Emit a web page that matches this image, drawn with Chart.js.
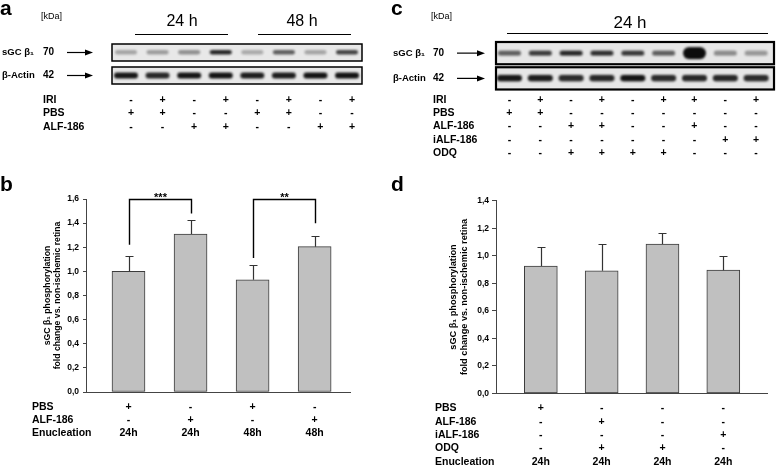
<!DOCTYPE html>
<html>
<head>
<meta charset="utf-8">
<script src="https://cdn.jsdelivr.net/npm/chart.js@4.4.0/dist/chart.umd.min.js"></script>
<style>
  body { margin: 0; background: #fff; }
  #fig { position: relative; width: 779px; height: 465px; overflow: hidden;
         font-family: Arial, "Liberation Sans", sans-serif; color: #000; }
  #fig canvas { position: absolute; }
  .t { position: absolute; white-space: nowrap; line-height: 1; }
  .letter { font-weight: bold; font-size: 21px; }
  .kda { font-size: 9px; }
  .time { font-size: 16px; transform: translateX(-50%); }
  .rule { position: absolute; height: 1px; background: #000; }
</style>
</head>
<body>
<div id="fig">
  <canvas id="blot-a" width="390" height="180" style="left:0;top:0"></canvas>
  <canvas id="blot-c" width="389" height="180" style="left:390px;top:0"></canvas>
  <canvas id="bar-b" width="390" height="285" style="left:0;top:180px"></canvas>
  <canvas id="bar-d" width="389" height="285" style="left:390px;top:180px"></canvas>

  <div class="t letter" style="left:0;top:-3px">a</div>
  <div class="t letter" style="left:0;top:173px">b</div>
  <div class="t letter" style="left:391px;top:-3px">c</div>
  <div class="t letter" style="left:391px;top:173px">d</div>

  <div class="t kda" style="left:41px;top:12px">[kDa]</div>
  <div class="t kda" style="left:431px;top:12px">[kDa]</div>

  <div class="t time" style="left:182px;top:13px">24 h</div>
  <div class="t time" style="left:302px;top:13px">48 h</div>
  <div class="rule" style="left:135px;top:34px;width:93px"></div>
  <div class="rule" style="left:258px;top:34px;width:93px"></div>
  <div class="t time" style="left:630px;top:14px;font-size:17px">24 h</div>
  <div class="rule" style="left:507px;top:33px;width:261px"></div>
</div>

<script>
  const FONT = 'Arial, "Liberation Sans", sans-serif';
  Chart.defaults.font.family = FONT;
  Chart.defaults.color = '#000';

  // ---- panel a: western blot, 8 lanes ----
  const blotARows = ['sGC β₁', 'β-Actin'];
  const blotAMass = ['70', '42'];
  const blotASgc = [0.30, 0.34, 0.40, 0.88, 0.28, 0.62, 0.30, 0.74];
  const blotAActin = [0.95, 0.88, 0.97, 0.97, 0.92, 0.92, 0.97, 0.97];
  const blotATableNames = ['IRI', 'PBS', 'ALF-186'];
  const blotAIri = ['-', '+', '-', '+', '-', '+', '-', '+'];
  const blotAPbs = ['+', '+', '-', '-', '+', '+', '-', '-'];
  const blotAAlf = ['-', '-', '+', '+', '-', '-', '+', '+'];

  // ---- panel c: western blot, 9 lanes ----
  const blotCRows = ['sGC β₁', 'β-Actin'];
  const blotCMass = ['70', '42'];
  const blotCSgc = [0.62, 0.78, 0.88, 0.84, 0.80, 0.62, 2.4, 0.42, 0.36];
  const blotCActin = [0.95, 0.92, 0.86, 0.88, 0.97, 0.86, 0.88, 0.88, 0.86];
  const blotCTableNames = ['IRI', 'PBS', 'ALF-186', 'iALF-186', 'ODQ'];
  const blotCIri = ['-', '+', '-', '+', '-', '+', '+', '-', '+'];
  const blotCPbs = ['+', '+', '-', '-', '-', '-', '-', '-', '-'];
  const blotCAlf = ['-', '-', '+', '+', '-', '-', '+', '-', '-'];
  const blotCIalf = ['-', '-', '-', '-', '-', '-', '-', '+', '+'];
  const blotCOdq = ['-', '-', '+', '+', '+', '+', '-', '-', '-'];

  // ---- panel b: bar chart ----
  const barBNames = ['PBS', 'ALF-186', 'Enucleation'];
  const barBPbs = ['+', '-', '+', '-'];
  const barBAlf = ['-', '+', '-', '+'];
  const barBTime = ['24h', '24h', '48h', '48h'];
  const barBValues = [1.00, 1.31, 0.93, 1.205];
  const barBErrors = [0.13, 0.12, 0.12, 0.085];
  const barBSigPairs = [[0, 1], [2, 3]];
  const barBSigLabels = ['***', '**'];
  const barBSigFeet = [[1.22, 1.48], [1.11, 1.40]];

  // ---- panel d: bar chart ----
  const barDNames = ['PBS', 'ALF-186', 'iALF-186', 'ODQ', 'Enucleation'];
  const barDPbs = ['+', '-', '-', '-'];
  const barDAlf = ['-', '+', '-', '-'];
  const barDIalf = ['-', '-', '-', '+'];
  const barDOdq = ['-', '+', '+', '-'];
  const barDTime = ['24h', '24h', '24h', '24h'];
  const barDValues = [0.925, 0.89, 1.085, 0.895];
  const barDErrors = [0.135, 0.195, 0.08, 0.10];

  const yTitle = ['sGC β₁ phosphorylation', 'fold change vs. non-ischemic retina'];
  const comma = v => v.toFixed(1).replace('.', ',');

  // blurred band sprite used as point style
  function band(w, baseH, signal) {
    const h = baseH * Math.max(1, signal);
    const a = Math.min(1, signal);
    const pad = 4;
    const c = document.createElement('canvas');
    c.width = w + pad * 2; c.height = Math.ceil(h) + pad * 2;
    const g = c.getContext('2d');
    g.filter = 'blur(1.1px)';
    g.fillStyle = 'rgba(12,12,12,' + a + ')';
    g.beginPath();
    g.roundRect(pad, pad, w, h, h / 2);
    g.fill();
    return c;
  }

  function signTable(names, rows, lay) {
    return {
      id: 'signTable',
      afterDraw(chart) {
        const { ctx, chartArea, scales: { x } } = chart;
        ctx.save();
        ctx.font = lay.font;
        ctx.fillStyle = '#000';
        ctx.textBaseline = 'middle';
        names.forEach((name, r) => {
          const yy = chartArea.bottom + lay.firstDy + r * lay.step;
          ctx.textAlign = 'left';
          ctx.fillText(name, lay.nameX, yy);
          ctx.textAlign = 'center';
          rows[r].forEach((s, i) => ctx.fillText(s, x.getPixelForValue(i) + (lay.shift || 0), yy));
        });
        ctx.restore();
      }
    };
  }

  function blotFrame(rows, masses, lay) {
    const boxes = chart => {
      const { chartArea: ca, scales: { y } } = chart;
      const h = ca.height / rows.length;
      return rows.map((_, k) => {
        const cy = y.getPixelForValue(k);
        return { cy, top: cy - h / 2 + lay.inset, bot: cy + h / 2 - lay.inset };
      });
    };
    return {
      id: 'blotFrame',
      beforeDatasetsDraw(chart) {
        const { ctx, chartArea: ca } = chart;
        ctx.save();
        ctx.fillStyle = lay.fill;
        boxes(chart).forEach(b => ctx.fillRect(ca.left, b.top, ca.width, b.bot - b.top));
        ctx.restore();
      },
      afterDraw(chart) {
        const { ctx, chartArea: ca } = chart;
        ctx.save();
        ctx.strokeStyle = '#000';
        ctx.fillStyle = '#000';
        ctx.lineWidth = lay.border;
        boxes(chart).forEach((b, k) => {
          ctx.strokeRect(ca.left, b.top, ca.width, b.bot - b.top);
          ctx.textBaseline = 'middle';
          ctx.textAlign = 'left';
          ctx.font = 'bold 9.5px ' + FONT;
          ctx.fillText(rows[k], lay.nameX, b.cy);
          ctx.font = 'bold 10px ' + FONT;
          ctx.fillText(masses[k], lay.massX, b.cy);
          // arrow
          ctx.lineWidth = 1.2;
          ctx.beginPath();
          ctx.moveTo(lay.arrowX0, b.cy);
          ctx.lineTo(lay.arrowX1 - 6, b.cy);
          ctx.stroke();
          ctx.beginPath();
          ctx.moveTo(lay.arrowX1, b.cy);
          ctx.lineTo(lay.arrowX1 - 8, b.cy - 3);
          ctx.lineTo(lay.arrowX1 - 8, b.cy + 3);
          ctx.closePath();
          ctx.fill();
          ctx.lineWidth = lay.border;
        });
        ctx.restore();
      }
    };
  }

  function errorBars(errs) {
    return {
      id: 'errorBars',
      afterDatasetsDraw(chart) {
        const { ctx, scales: { x, y } } = chart;
        ctx.save();
        ctx.strokeStyle = '#333';
        ctx.lineWidth = 1.2;
        chart.data.datasets[0].data.forEach((p, i) => {
          const px = Math.round(x.getPixelForValue(p.x)) + 0.5;
          const y0 = y.getPixelForValue(p.y);
          const y1 = Math.round(y.getPixelForValue(p.y + errs[i])) + 0.5;
          ctx.beginPath();
          ctx.moveTo(px, y0); ctx.lineTo(px, y1);
          ctx.moveTo(px - 4, y1); ctx.lineTo(px + 4, y1);
          ctx.stroke();
        });
        ctx.restore();
      }
    };
  }

  function brackets(pairs, labels, feet) {
    return {
      id: 'brackets',
      afterDraw(chart) {
        const { ctx, scales: { x, y } } = chart;
        const top = Math.round(y.getPixelForValue(y.max)) + 0.5;
        ctx.save();
        ctx.strokeStyle = '#000';
        ctx.fillStyle = '#000';
        ctx.lineWidth = 1.4;
        pairs.forEach(([a, b], k) => {
          const xa = Math.round(x.getPixelForValue(a)) + 0.5;
          const xb = Math.round(x.getPixelForValue(b)) + 0.5;
          ctx.beginPath();
          ctx.moveTo(xa, y.getPixelForValue(feet[k][0]));
          ctx.lineTo(xa, top);
          ctx.lineTo(xb, top);
          ctx.lineTo(xb, y.getPixelForValue(feet[k][1]));
          ctx.stroke();
          ctx.font = 'bold 11px ' + FONT;
          ctx.textAlign = 'center';
          ctx.textBaseline = 'alphabetic';
          ctx.fillText(labels[k], (xa + xb) / 2, top + 1.5);
        });
        ctx.restore();
      }
    };
  }

  function blotChart(id, rows, masses, sgc, actin, sizes, xRange, padding, frame, table) {
    const lanes = sgc.map((_, i) => i);
    return new Chart(document.getElementById(id), {
      type: 'scatter',
      data: {
        datasets: [
          { data: lanes.map(i => ({ x: i, y: rows[0] })), pointRadius: 1,
            pointStyle: sgc.map(s => band(sizes.w, sizes.sgcH, s)) },
          { data: lanes.map(i => ({ x: i, y: rows[1] })), pointRadius: 1,
            pointStyle: actin.map(s => band(sizes.w + 2, sizes.actinH, s)) }
        ]
      },
      options: {
        responsive: false,
        animation: false,
        layout: { padding },
        plugins: { legend: { display: false }, tooltip: { enabled: false } },
        scales: {
          x: { type: 'linear', min: xRange[0], max: xRange[1], display: false },
          y: { type: 'category', labels: rows, offset: true, display: false }
        }
      },
      plugins: [blotFrame(rows, masses, frame), table]
    });
  }

  function barChart(id, values, errs, cfg, extra) {
    return new Chart(document.getElementById(id), {
      type: 'bar',
      data: {
        datasets: [{
          data: values.map((v, i) => ({ x: i, y: v })),
          backgroundColor: '#c0c0c0',
          borderColor: '#3c3c3c',
          borderWidth: 1,
          borderSkipped: false,
          barThickness: 33
        }]
      },
      options: {
        responsive: false,
        animation: false,
        layout: { padding: cfg.padding },
        plugins: { legend: { display: false }, tooltip: { enabled: false } },
        scales: {
          x: {
            type: 'linear', min: cfg.xRange[0], max: cfg.xRange[1], offset: false,
            ticks: { display: false },
            grid: { display: false },
            border: { display: true, color: '#444', width: 1 },
            afterFit: s => { s.height = cfg.xHeight; }
          },
          y: {
            min: 0, max: cfg.yMax,
            ticks: { stepSize: 0.2, callback: comma, padding: cfg.tickPad,
                     font: { size: 8.5, weight: 'bold' }, color: '#000' },
            grid: { drawOnChartArea: false, drawTicks: true, tickLength: cfg.tickLen, color: '#444' },
            border: { display: true, color: '#444', width: 1 },
            title: { display: true, text: yTitle, color: '#000',
                     font: { size: cfg.titleSize, weight: 'bold', lineHeight: 1.2 },
                     padding: { top: cfg.titlePad, bottom: 0 } },
            afterFit: s => { s.width = cfg.yWidth; }
          }
        }
      },
      plugins: [errorBars(errs)].concat(extra)
    });
  }

  blotChart('blot-a', blotARows, blotAMass, blotASgc, blotAActin,
    { w: 22, sgcH: 4.5, actinH: 6 }, [-0.443, 7.475],
    { left: 112, right: 28, top: 41, bottom: 93 },
    { inset: 3, border: 1.5, fill: '#e8e8e8', nameX: 2, massX: 43, arrowX0: 67, arrowX1: 93 },
    signTable(blotATableNames, [blotAIri, blotAPbs, blotAAlf],
      { font: 'bold 10.5px ' + FONT, nameX: 43, firstDy: 13, step: 13.4, shift: 5 }));

  blotChart('blot-c', blotCRows, blotCMass, blotCSgc, blotCActin,
    { w: 23, sgcH: 5, actinH: 6.5 }, [-0.435, 8.58],
    { left: 106, right: 3, top: 40.5, bottom: 89 },
    { inset: 1.5, border: 2.2, fill: '#e6e6e6', nameX: 3, massX: 43, arrowX0: 67, arrowX1: 95 },
    signTable(blotCTableNames, [blotCIri, blotCPbs, blotCAlf, blotCIalf, blotCOdq],
      { font: 'bold 10.5px ' + FONT, nameX: 43, firstDy: 9, step: 13.3 }));

  barChart('bar-b', barBValues, barBErrors, {
    padding: { left: 0, right: 40, top: 19, bottom: 0 },
    xRange: [-0.685, 3.57], xHeight: 73, yMax: 1.6, yWidth: 86,
    tickPad: 4, tickLen: 3, titleSize: 8.7, titlePad: 42
  }, [
    brackets(barBSigPairs, barBSigLabels, barBSigFeet),
    signTable(barBNames, [barBPbs, barBAlf, barBTime],
      { font: 'bold 10.5px ' + FONT, nameX: 32, firstDy: 14.7, step: 13.3 })
  ]);

  barChart('bar-d', barDValues, barDErrors, {
    padding: { left: 0, right: 11.3, top: 20.7, bottom: 0 },
    xRange: [-0.737, 3.73], xHeight: 71.7, yMax: 1.4, yWidth: 106,
    tickPad: 3, tickLen: 4, titleSize: 9.2, titlePad: 57.5
  }, [
    signTable(barDNames, [barDPbs, barDAlf, barDIalf, barDOdq, barDTime],
      { font: 'bold 10.5px ' + FONT, nameX: 45, firstDy: 15, step: 13.35 })
  ]);
</script>
</body>
</html>
